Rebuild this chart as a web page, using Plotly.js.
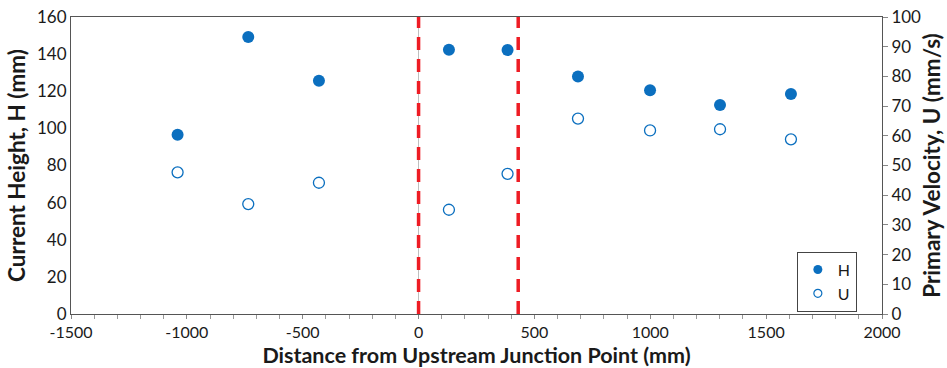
<!DOCTYPE html>
<html><head><meta charset="utf-8">
<script src="https://cdn.plot.ly/plotly-3.0.1.min.js"></script>
<style>html,body{margin:0;padding:0;background:#fff}#chart{width:947px;height:368px}</style>
</head><body><div id="chart"></div>
<script>
const distance = [-1040, -735, -430, 131, 384, 688, 999, 1301, 1607];
const heightH = [96.6, 149.2, 125.7, 142.4, 142.2, 127.9, 120.5, 112.6, 118.5];
const velocityU = [47.7, 37.0, 44.2, 35.1, 47.2, 65.8, 61.8, 62.2, 58.8];
const junctionLines = [0, 430];
const xTickVals = [-1500, -1000, -500, 0, 500, 1000, 1500, 2000];
const xTickText = ['-1500', '-1000', '-500', '0', '500', '1000', '1500', '2000'];

const blue = '#0b6fbf';
const font = 'Lato, "Open Sans", sans-serif';

const traces = [
  {x: distance, y: heightH, name: 'H', type: 'scatter', mode: 'markers', showlegend: false,
   marker: {color: blue, size: 12, symbol: 'circle'}, yaxis: 'y'},
  {x: distance, y: velocityU, name: 'U', type: 'scatter', mode: 'markers', showlegend: false,
   marker: {color: '#ffffff', size: 11, symbol: 'circle', line: {color: blue, width: 1.3}}, yaxis: 'y2'},
  {x: [null], y: [null], name: 'H', type: 'scatter', mode: 'markers',
   marker: {color: blue, size: 9, symbol: 'circle'}, yaxis: 'y'},
  {x: [null], y: [null], name: 'U', type: 'scatter', mode: 'markers',
   marker: {color: '#ffffff', size: 8, symbol: 'circle', line: {color: blue, width: 1.2}}, yaxis: 'y'}
];

const shapes = junctionLines.map(v => ({
  type: 'line', xref: 'x', yref: 'paper', x0: v, x1: v, y0: 0, y1: 1,
  line: {color: '#ee1c24', width: 3.5, dash: '13px,9px'}
}));

const layout = {
  width: 947, height: 368,
  margin: {l: 71, r: 65, t: 17, b: 54},
  paper_bgcolor: '#fff', plot_bgcolor: '#fff',
  font: {family: font, size: 17, color: '#1a1a1a'},
  showlegend: true,
  legend: {x: 0.969, y: 0.21, xanchor: 'right', yanchor: 'top', bgcolor: '#fff',
    bordercolor: '#444', borderwidth: 1, font: {size: 16},
    itemwidth: 30, tracegroupgap: 0},
  xaxis: {range: [-1500, 2000], tickvals: xTickVals, ticktext: xTickText, showgrid: false,
    zeroline: true, zerolinecolor: '#bfbfbf', zerolinewidth: 1.5,
    showline: true, linecolor: '#555', linewidth: 1, mirror: true,
    ticks: 'outside', ticklen: 4, tickcolor: '#888',
    minor: {dtick: 100, ticks: 'outside', ticklen: 4, tickcolor: '#999'},
    tickfont: {size: 16},
    title: {text: '<b>Distance from Upstream Junction Point (mm)</b>', font: {size: 21.5}, standoff: 10}},
  yaxis: {range: [0, 160], dtick: 20, showgrid: false, zeroline: false,
    showline: true, linecolor: '#555', linewidth: 1, ticks: '', tickfont: {size: 17},
    title: {text: '<b>Current Height, H (mm)</b>', font: {size: 22.5}, standoff: 5}},
  yaxis2: {range: [0, 100], dtick: 10, overlaying: 'y', side: 'right', showgrid: false,
    zeroline: false, showline: true, linecolor: '#555', linewidth: 1,
    ticks: 'outside', ticklen: 5, tickcolor: '#888', tickfont: {size: 17},
    title: {text: '<b>Primary Velocity, U (mm/s)</b>', font: {size: 22.5}, standoff: 4}},
  shapes: shapes
};

Plotly.newPlot('chart', traces, layout, {displayModeBar: false, staticPlot: true});
</script></body></html>
